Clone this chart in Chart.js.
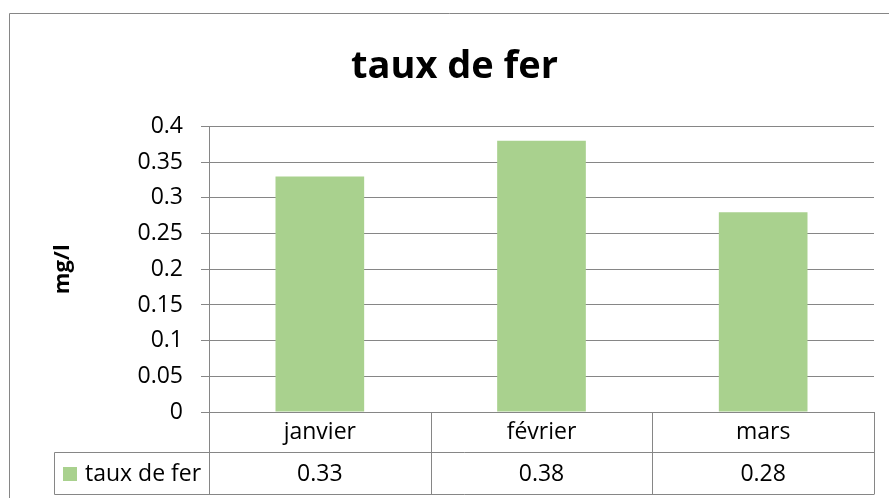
<!DOCTYPE html>
<html>
<head>
<meta charset="utf-8">
<script src="https://cdn.jsdelivr.net/npm/chart.js@4/dist/chart.umd.min.js"></script>
<style>
  body { margin: 0; background: #fff; }
  canvas { display: block; }
</style>
</head>
<body>
<canvas id="chart" width="889" height="498"></canvas>
<script>
const categories = ['janvier', 'février', 'mars'];
const seriesName = 'taux de fer';
const values = [0.33, 0.38, 0.28];
const yTickLabels = ['0', '0.05', '0.1', '0.15', '0.2', '0.25', '0.3', '0.35', '0.4'];

const FONT = '"Open Sans"';
const GRID = '#868686';
const BAR = '#a9d18e';

// Excel style data table under the plot, plus the outer chart frame
const dataTable = {
    id: 'dataTable',
    afterDraw(chart) {
        const ctx = chart.ctx;
        const x = chart.scales.x;
        const area = chart.chartArea;
        const step = x.getPixelForValue(1) - x.getPixelForValue(0);
        const top = Math.round(area.bottom);
        const mid = top + 40;
        const bot = top + 82;
        const legLeft = 54;

        ctx.save();
        ctx.strokeStyle = GRID;
        ctx.lineWidth = 1;
        ctx.beginPath();
        // frame
        ctx.moveTo(9.5, 498); ctx.lineTo(9.5, 13.5); ctx.lineTo(889, 13.5);
        // column borders
        for (let i = 0; i <= categories.length; i++) {
            const px = Math.round(x.getPixelForValue(0) - step / 2 + i * step) + 0.5;
            ctx.moveTo(px, top); ctx.lineTo(px, bot + 0.5);
        }
        ctx.moveTo(legLeft + 0.5, mid + 0.5); ctx.lineTo(area.right, mid + 0.5);
        ctx.moveTo(legLeft + 0.5, bot + 0.5); ctx.lineTo(area.right, bot + 0.5);
        ctx.moveTo(legLeft + 0.5, mid + 0.5); ctx.lineTo(legLeft + 0.5, bot + 0.5);
        ctx.stroke();

        const rowY = (mid + bot) / 2 + 1;
        ctx.fillStyle = BAR;
        ctx.fillRect(63, rowY - 7, 14, 14);

        ctx.fillStyle = '#000';
        ctx.font = '23px ' + FONT;
        ctx.textBaseline = 'middle';
        ctx.textAlign = 'left';
        ctx.fillText(seriesName, 85, rowY);
        ctx.textAlign = 'center';
        values.forEach((v, i) => {
            ctx.fillText(String(v), x.getPixelForValue(i), rowY);
        });
        ctx.restore();
    }
};

new Chart(document.getElementById('chart'), {
    type: 'bar',
    data: {
        labels: categories,
        datasets: [{
            label: seriesName,
            data: values,
            backgroundColor: BAR,
            barPercentage: 0.4,
            categoryPercentage: 1
        }]
    },
    options: {
        responsive: false,
        animation: false,
        layout: { padding: { left: 35, right: 15, top: 0, bottom: 0 } },
        plugins: {
            legend: { display: false },
            tooltip: { enabled: false },
            title: {
                display: true,
                text: 'taux de fer',
                color: '#000',
                font: { family: FONT, size: 38, weight: 'bold' },
                padding: { top: 44, bottom: 37 }
            }
        },
        scales: {
            x: {
                grid: { display: false, drawTicks: false },
                border: { display: false },
                ticks: { color: '#000', font: { family: FONT, size: 23 }, padding: 7 },
                afterFit: s => { s.height = 86; }
            },
            y: {
                min: 0,
                max: 0.4,
                ticks: {
                    stepSize: 0.05,
                    color: '#000',
                    font: { family: FONT, size: 23 },
                    padding: 18,
                    callback: (v, i) => yTickLabels[i]
                },
                grid: { color: GRID, tickLength: 8 },
                border: { color: GRID },
                title: {
                    display: true,
                    text: 'mg/l',
                    color: '#000',
                    font: { family: FONT, size: 22, weight: 'bold' },
                    padding: { top: 15, bottom: 0 }
                },
                afterFit: s => { s.width = 174; }
            }
        }
    },
    plugins: [dataTable]
});
</script>
</body>
</html>
